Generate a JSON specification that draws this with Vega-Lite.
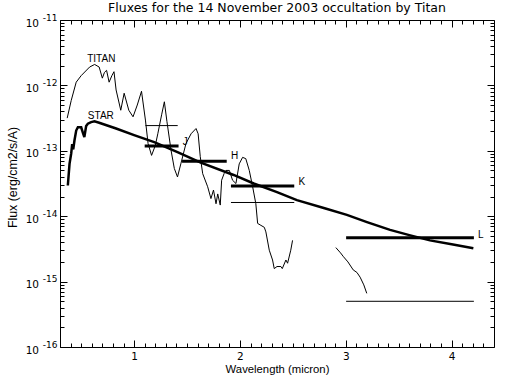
{
  "$schema": "https://vega.github.io/schema/vega-lite/v6.json",
  "autosize": "none",
  "width": 434,
  "height": 327,
  "padding": {"left": 60, "top": 20, "right": 18, "bottom": 37},
  "background": "white",
  "title": {"text": "Fluxes for the 14 November 2003 occultation by Titan", "fontSize": 12.5, "fontWeight": "normal", "font": "DejaVu Sans", "color": "black", "offset": -1, "anchor": "middle"},
  "config": {
    "view": {"stroke": "black", "strokeWidth": 1},
    "axis": {"grid": false, "domain": false, "ticks": true, "tickColor": "black", "tickWidth": 1, "tickOpacity": 1, "labelColor": "black", "titleColor": "black", "labelFont": "DejaVu Sans", "titleFont": "Liberation Sans", "labelOverlap": false, "labelFlush": false, "labelBound": false, "titleFontWeight": "normal"}
  },
  "datasets": {
    "titan": [
      {"x": 0.368, "f": 3.16e-13, "seg": 1},
      {"x": 0.406, "f": 5.89e-13, "seg": 1},
      {"x": 0.453, "f": 1.12e-12, "seg": 1},
      {"x": 0.5, "f": 1.41e-12, "seg": 1},
      {"x": 0.58, "f": 1.91e-12, "seg": 1},
      {"x": 0.627, "f": 2.09e-12, "seg": 1},
      {"x": 0.67, "f": 1.91e-12, "seg": 1},
      {"x": 0.7, "f": 1.29e-12, "seg": 1},
      {"x": 0.72, "f": 1.58e-12, "seg": 1},
      {"x": 0.74, "f": 1.70e-12, "seg": 1},
      {"x": 0.764, "f": 1.12e-12, "seg": 1},
      {"x": 0.79, "f": 1.41e-12, "seg": 1},
      {"x": 0.81, "f": 1.62e-12, "seg": 1},
      {"x": 0.83, "f": 8.51e-13, "seg": 1},
      {"x": 0.874, "f": 4.17e-13, "seg": 1},
      {"x": 0.906, "f": 7.59e-13, "seg": 1},
      {"x": 0.95, "f": 4.17e-13, "seg": 1},
      {"x": 0.99, "f": 3.31e-13, "seg": 1},
      {"x": 1.03, "f": 5.01e-13, "seg": 1},
      {"x": 1.07, "f": 8.13e-13, "seg": 1},
      {"x": 1.107, "f": 2.95e-13, "seg": 1},
      {"x": 1.132, "f": 1.29e-13, "seg": 1},
      {"x": 1.165, "f": 8.51e-14, "seg": 1},
      {"x": 1.2, "f": 1.20e-13, "seg": 1},
      {"x": 1.224, "f": 1.82e-13, "seg": 1},
      {"x": 1.26, "f": 3.55e-13, "seg": 1},
      {"x": 1.286, "f": 5.62e-13, "seg": 1},
      {"x": 1.31, "f": 2.82e-13, "seg": 1},
      {"x": 1.349, "f": 1.02e-13, "seg": 1},
      {"x": 1.38, "f": 5.37e-14, "seg": 1},
      {"x": 1.41, "f": 3.98e-14, "seg": 1},
      {"x": 1.443, "f": 6.46e-14, "seg": 1},
      {"x": 1.49, "f": 1.29e-13, "seg": 1},
      {"x": 1.538, "f": 1.82e-13, "seg": 1},
      {"x": 1.585, "f": 2.19e-13, "seg": 1},
      {"x": 1.605, "f": 1.82e-13, "seg": 1},
      {"x": 1.625, "f": 8.13e-14, "seg": 1},
      {"x": 1.648, "f": 4.47e-14, "seg": 1},
      {"x": 1.695, "f": 2.82e-14, "seg": 1},
      {"x": 1.726, "f": 1.86e-14, "seg": 1},
      {"x": 1.75, "f": 2.51e-14, "seg": 1},
      {"x": 1.774, "f": 1.55e-14, "seg": 1},
      {"x": 1.79, "f": 2.19e-14, "seg": 1},
      {"x": 1.814, "f": 1.48e-14, "seg": 1},
      {"x": 1.827, "f": 3.55e-14, "seg": 1},
      {"x": 1.85, "f": 4.47e-14, "seg": 1},
      {"x": 1.868, "f": 5.01e-14, "seg": 1},
      {"x": 1.9, "f": 5.01e-14, "seg": 1},
      {"x": 1.93, "f": 3.55e-14, "seg": 1},
      {"x": 1.962, "f": 3.16e-14, "seg": 1},
      {"x": 1.993, "f": 6.31e-14, "seg": 1},
      {"x": 2.025, "f": 7.94e-14, "seg": 1},
      {"x": 2.055, "f": 7.59e-14, "seg": 1},
      {"x": 2.088, "f": 5.01e-14, "seg": 1},
      {"x": 2.12, "f": 2.82e-14, "seg": 1},
      {"x": 2.15, "f": 1.55e-14, "seg": 1},
      {"x": 2.167, "f": 7.76e-15, "seg": 1},
      {"x": 2.198, "f": 7.24e-15, "seg": 1},
      {"x": 2.23, "f": 6.76e-15, "seg": 1},
      {"x": 2.245, "f": 5.75e-15, "seg": 1},
      {"x": 2.277, "f": 3.02e-15, "seg": 1},
      {"x": 2.308, "f": 2.14e-15, "seg": 1},
      {"x": 2.324, "f": 1.58e-15, "seg": 1},
      {"x": 2.35, "f": 1.70e-15, "seg": 1},
      {"x": 2.387, "f": 1.70e-15, "seg": 1},
      {"x": 2.4, "f": 1.58e-15, "seg": 1},
      {"x": 2.434, "f": 2.14e-15, "seg": 1},
      {"x": 2.45, "f": 1.91e-15, "seg": 1},
      {"x": 2.48, "f": 3.02e-15, "seg": 1},
      {"x": 2.497, "f": 4.27e-15, "seg": 1},
      {"x": 2.906, "f": 3.31e-15, "seg": 2},
      {"x": 2.95, "f": 2.75e-15, "seg": 2},
      {"x": 2.978, "f": 2.40e-15, "seg": 2},
      {"x": 3.02, "f": 2.00e-15, "seg": 2},
      {"x": 3.07, "f": 1.51e-15, "seg": 2},
      {"x": 3.105, "f": 1.38e-15, "seg": 2},
      {"x": 3.135, "f": 1.17e-15, "seg": 2},
      {"x": 3.17, "f": 8.91e-16, "seg": 2},
      {"x": 3.198, "f": 6.61e-16, "seg": 2}
    ],
    "star": [
      {"x": 0.374, "f": 2.95e-14},
      {"x": 0.39, "f": 6.31e-14},
      {"x": 0.406, "f": 9.12e-14},
      {"x": 0.415, "f": 1.26e-13},
      {"x": 0.425, "f": 1.05e-13},
      {"x": 0.437, "f": 1.45e-13},
      {"x": 0.453, "f": 2.04e-13},
      {"x": 0.469, "f": 2.29e-13},
      {"x": 0.5, "f": 2.29e-13},
      {"x": 0.515, "f": 1.91e-13},
      {"x": 0.53, "f": 1.62e-13},
      {"x": 0.547, "f": 2.40e-13},
      {"x": 0.563, "f": 2.60e-13},
      {"x": 0.594, "f": 2.75e-13},
      {"x": 0.626, "f": 2.82e-13},
      {"x": 0.67, "f": 2.69e-13},
      {"x": 0.83, "f": 2.19e-13},
      {"x": 1.0, "f": 1.74e-13},
      {"x": 1.19, "f": 1.36e-13},
      {"x": 1.41, "f": 9.55e-14},
      {"x": 1.63, "f": 6.61e-14},
      {"x": 1.94, "f": 4.27e-14},
      {"x": 2.13, "f": 3.16e-14},
      {"x": 2.35, "f": 2.34e-14},
      {"x": 2.538, "f": 1.76e-14},
      {"x": 2.8, "f": 1.32e-14},
      {"x": 3.01, "f": 1.05e-14},
      {"x": 3.2, "f": 8.13e-15},
      {"x": 3.418, "f": 6.17e-15},
      {"x": 3.6, "f": 5.13e-15},
      {"x": 3.795, "f": 4.27e-15},
      {"x": 4.0, "f": 3.72e-15},
      {"x": 4.205, "f": 3.24e-15}
    ],
    "bands": [
      {"band": "J", "object": "titan", "x1": 1.107, "x2": 1.412, "f": 2.43e-13},
      {"band": "J", "object": "star", "x1": 1.10, "x2": 1.42, "f": 1.18e-13},
      {"band": "H", "object": "star", "x1": 1.453, "x2": 1.875, "f": 6.9e-14},
      {"band": "K", "object": "star", "x1": 1.915, "x2": 2.513, "f": 2.9e-14},
      {"band": "K", "object": "titan", "x1": 1.915, "x2": 2.513, "f": 1.62e-14},
      {"band": "L", "object": "star", "x1": 3.003, "x2": 4.21, "f": 4.7e-15},
      {"band": "L", "object": "titan", "x1": 3.003, "x2": 4.21, "f": 5.0e-16}
    ],
    "labels": [
      {"text": "TITAN", "x": 0.557, "f": 2.55e-12},
      {"text": "STAR", "x": 0.563, "f": 3.39e-13},
      {"text": "J", "x": 1.46, "f": 1.35e-13},
      {"text": "H", "x": 1.915, "f": 8.3e-14},
      {"text": "K", "x": 2.553, "f": 3.34e-14},
      {"text": "L", "x": 4.25, "f": 5.13e-15}
    ]
  },
  "resolve": {"axis": {"x": "independent", "y": "independent"}},
  "layer": [
    {
      "data": {"name": "titan"},
      "mark": {"type": "line", "color": "black", "strokeWidth": 1},
      "encoding": {
        "x": {"field": "x", "type": "quantitative", "scale": {"domain": [0.3, 4.4], "nice": false, "zero": false},
              "axis": {"orient": "bottom", "offset": -7, "values": [1, 2, 3, 4], "format": "d", "tickSize": 7,
                       "labelPadding": 4, "labelFontSize": 10.5, "title": "Wavelength (micron)", "titleFontSize": 11.3, "titlePadding": 2}},
        "y": {"field": "f", "type": "quantitative", "scale": {"type": "log", "domain": [1e-16, 1e-11], "nice": false},
              "axis": {"orient": "left", "offset": -7, "values": [1e-16, 1e-15, 1e-14, 1e-13, 1e-12, 1e-11], "tickSize": 7,
                       "labelExpr": "'10'", "labelPadding": 21.5, "labelFontSize": 10.5, "labelOffset": 3,
                       "title": "Flux (erg/cm2/s/A)", "titleFontSize": 12.4, "titlePadding": 6, "titleY": 157}},
        "detail": {"field": "seg", "type": "nominal"}
      }
    },
    {
      "data": {"name": "star"},
      "mark": {"type": "line", "color": "black", "strokeWidth": 2.5},
      "encoding": {
        "x": {"field": "x", "type": "quantitative", "scale": {"domain": [0.3, 4.4], "nice": false, "zero": false},
              "axis": {"orient": "bottom", "offset": -4, "values": [0.4,0.5,0.6,0.7,0.8,0.9,1.1,1.2,1.3,1.4,1.5,1.6,1.7,1.8,1.9,2.1,2.2,2.3,2.4,2.5,2.6,2.7,2.8,2.9,3.1,3.2,3.3,3.4,3.5,3.6,3.7,3.8,3.9,4.1,4.2,4.3],
                       "tickSize": 4, "labels": false, "title": null}},
        "y": {"field": "f", "type": "quantitative", "scale": {"type": "log", "domain": [1e-16, 1e-11], "nice": false},
              "axis": {"orient": "left", "offset": -4, "values": [1e-16,2e-16,3e-16,4e-16,5e-16,6e-16,7e-16,8e-16,9e-16,1e-15,2e-15,3e-15,4e-15,5e-15,6e-15,7e-15,8e-15,9e-15,1e-14,2e-14,3e-14,4e-14,5e-14,6e-14,7e-14,8e-14,9e-14,1e-13,2e-13,3e-13,4e-13,5e-13,6e-13,7e-13,8e-13,9e-13,1e-12,2e-12,3e-12,4e-12,5e-12,6e-12,7e-12,8e-12,9e-12,1e-11],
                       "tickSize": 4,
                       "labelExpr": "abs(log(datum.value)/LN10 - round(log(datum.value)/LN10)) < 1e-6 ? '-' + (-round(log(datum.value)/LN10)) : ''",
                       "labelPadding": 3, "labelFontSize": 9, "labelOffset": -3, "title": null}}
      }
    },
    {
      "data": {"name": "bands"},
      "mark": {"type": "rule", "color": "black"},
      "encoding": {
        "x": {"field": "x1", "type": "quantitative", "scale": {"domain": [0.3, 4.4], "nice": false, "zero": false},
              "axis": {"orient": "top", "offset": -7, "values": [1, 2, 3, 4], "tickSize": 7, "labels": false, "title": null}},
        "x2": {"field": "x2"},
        "y": {"field": "f", "type": "quantitative", "scale": {"type": "log", "domain": [1e-16, 1e-11], "nice": false},
              "axis": {"orient": "right", "offset": -7, "values": [1e-16, 1e-15, 1e-14, 1e-13, 1e-12, 1e-11], "tickSize": 7, "labels": false, "title": null}},
        "strokeWidth": {"field": "object", "type": "nominal", "scale": {"domain": ["star", "titan"], "range": [3, 1]}, "legend": null}
      }
    },
    {
      "data": {"name": "labels"},
      "mark": {"type": "text", "color": "black", "align": "left", "baseline": "middle", "font": "Liberation Sans", "fontSize": 10},
      "encoding": {
        "x": {"field": "x", "type": "quantitative", "scale": {"domain": [0.3, 4.4], "nice": false, "zero": false},
              "axis": {"orient": "top", "offset": -4, "values": [0.4,0.5,0.6,0.7,0.8,0.9,1.1,1.2,1.3,1.4,1.5,1.6,1.7,1.8,1.9,2.1,2.2,2.3,2.4,2.5,2.6,2.7,2.8,2.9,3.1,3.2,3.3,3.4,3.5,3.6,3.7,3.8,3.9,4.1,4.2,4.3],
                       "tickSize": 4, "labels": false, "title": null}},
        "y": {"field": "f", "type": "quantitative", "scale": {"type": "log", "domain": [1e-16, 1e-11], "nice": false},
              "axis": {"orient": "right", "offset": -4, "values": [2e-16,3e-16,4e-16,5e-16,6e-16,7e-16,8e-16,9e-16,2e-15,3e-15,4e-15,5e-15,6e-15,7e-15,8e-15,9e-15,2e-14,3e-14,4e-14,5e-14,6e-14,7e-14,8e-14,9e-14,2e-13,3e-13,4e-13,5e-13,6e-13,7e-13,8e-13,9e-13,2e-12,3e-12,4e-12,5e-12,6e-12,7e-12,8e-12,9e-12],
                       "tickSize": 4, "labels": false, "title": null}},
        "text": {"field": "text", "type": "nominal"}
      }
    }
  ]
}
